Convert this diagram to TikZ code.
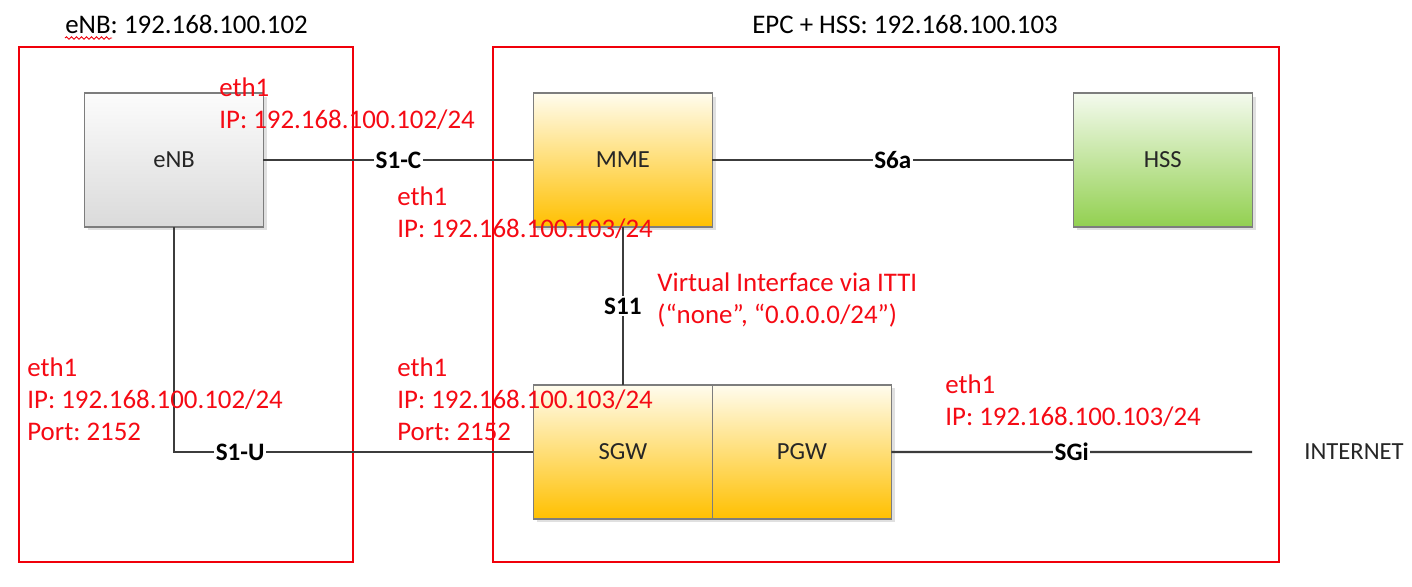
\documentclass[tikz,border=0pt]{standalone}
\usepackage{fontspec}
\setmainfont{Carlito}
\usetikzlibrary{positioning,shadows,decorations.pathmorphing}
\frenchspacing
\definecolor{boxline}{RGB}{125,125,125}
\definecolor{linkline}{RGB}{60,60,60}
\definecolor{hostrule}{RGB}{240,0,10}
\definecolor{iptext}{RGB}{245,10,20}
\definecolor{enbtop}{RGB}{252,252,252}
\definecolor{enbbot}{RGB}{218,218,218}
\definecolor{epctop}{RGB}{255,252,238}
\definecolor{epcbot}{RGB}{255,192,0}
\definecolor{hsstop}{RGB}{244,250,238}
\definecolor{hssbot}{RGB}{146,208,80}
\tikzset{
  hostbox/.style={draw=hostrule,line width=0.9pt},
  func/.style={rectangle,draw=boxline,line width=0.8pt,outer sep=0pt,minimum width=3.58cm,minimum height=2.68cm,text=black!85,font=\fontsize{14}{16}\selectfont,drop shadow={shadow xshift=0.07cm,shadow yshift=-0.07cm,opacity=0.12,fill=black}},
  enbfunc/.style={func,top color=enbtop,bottom color=enbbot},
  epcfunc/.style={func,top color=epctop,bottom color=epcbot},
  hssfunc/.style={func,top color=hsstop,bottom color=hssbot},
  link/.style={draw=linkline,line width=1.2pt},
  ifname/.style={fill=white,inner sep=1pt,text=black,font=\bfseries\fontsize{14.3}{16}\selectfont},
  iplabel/.style={text=iptext,align=left,anchor=base west,inner sep=0pt,font=\fontsize{15.3}{18.1}\selectfont},
  hosttitle/.style={anchor=base west,inner sep=0pt,font=\fontsize{15.3}{18}\selectfont}
}
\begin{document}
\begin{tikzpicture}[x=0.02cm,y=-0.02cm,node distance=5.4cm]
  \useasboundingbox (0,0) rectangle (1412,586);
  % host frames
  \draw[hostbox] (19,47) rectangle (353,562);
  \draw[hostbox] (493,47) rectangle (1279,562);
  \node[hosttitle] (enbtitle) at (65,33) {eNB: 192.168.100.102};
  \draw[hostrule,line width=0.5pt,decorate,decoration={snake,segment length=0.1cm,amplitude=0.025cm}] (65,38) -- (112,38);
  \node[hosttitle] (epctitle) at (752,33) {EPC + HSS: 192.168.100.103};
  % network functions
  \node[enbfunc] (enb) at (174,160) {eNB};
  \node[epcfunc,right=of enb] (mme) {MME};
  \node[hssfunc,right=7.22cm of mme] (hss) {HSS};
  \node[epcfunc,below=3.16cm of mme] (sgw) {SGW};
  \node[epcfunc,right=0pt of sgw] (pgw) {PGW};
  \node[anchor=west,inner sep=0pt,text=black!85,font=\fontsize{14}{16}\selectfont] (inet) at (1304,452) {INTERNET};
  \coordinate (sgiend) at (1252,452);
  % interfaces
  \draw[link] (enb) -- node[ifname] {S1-C} (mme);
  \draw[link] (mme) -- node[ifname] {S6a} (hss);
  \draw[link] (mme) -- node[ifname] {S11} (sgw);
  \draw[link] (enb.south) |- node[ifname,pos=0.592] {S1-U} (sgw.west);
  \draw[link] (pgw) -- node[ifname] {SGi} (sgiend);
  % addresses (anchored on the last line)
  \node[iplabel] (enbc) at (219,128) {eth1\\IP: 192.168.100.102/24};
  \node[iplabel] (mmec) at (397,237) {eth1\\IP: 192.168.100.103/24};
  \node[iplabel] (itti) at (657,323) {Virtual Interface via ITTI\\(“none”, “0.0.0.0/24”)};
  \node[iplabel] (enbu) at (27,440) {eth1\\IP: 192.168.100.102/24\\Port: 2152};
  \node[iplabel] (sgwu) at (397,440) {eth1\\IP: 192.168.100.103/24\\Port: 2152};
  \node[iplabel] (pgwi) at (945,425) {eth1\\IP: 192.168.100.103/24};
\end{tikzpicture}
\end{document}
